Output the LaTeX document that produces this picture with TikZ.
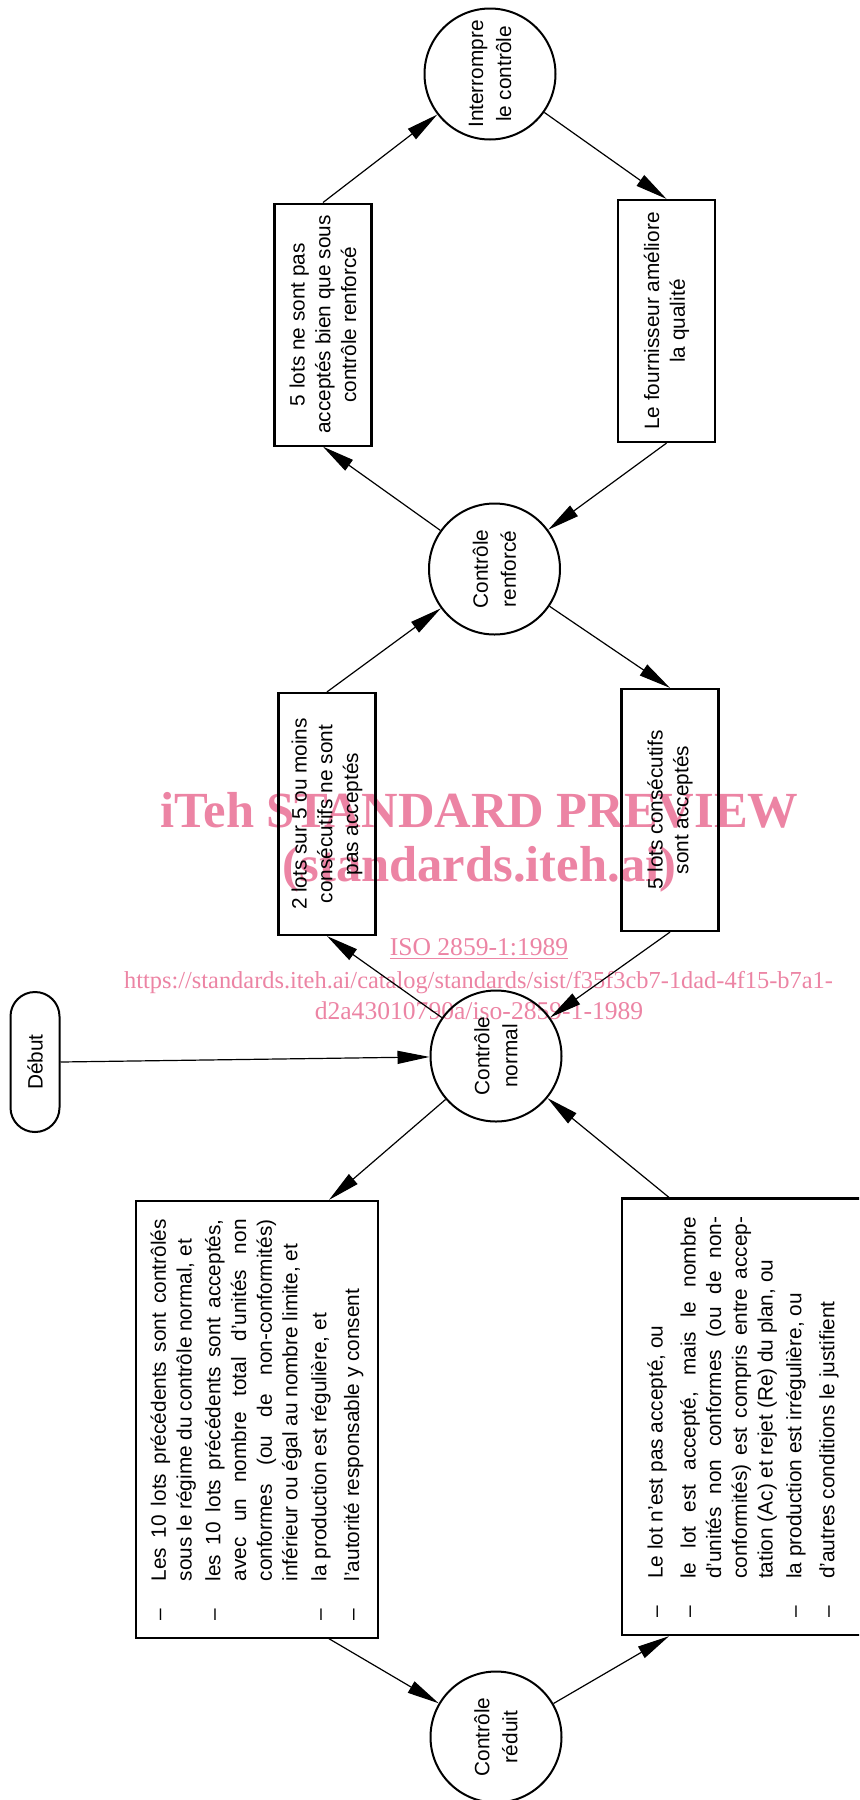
\documentclass[tikz,border=0pt]{standalone}
\usepackage{fontspec}
\setmainfont{Liberation Sans}
\newfontfamily\wmfont{Liberation Serif}
\usepackage{tikz}
\usetikzlibrary{arrows.meta, calc, shapes.geometric}
\definecolor{wmpink}{RGB}{236,132,164}
\newcommand{\diagfont}{\fontsize{10.4}{12.85}\selectfont}
\newcommand{\justifset}{\diagfont\leftskip=0pt\rightskip=0pt\parfillskip=0pt plus 1fil\spaceskip=0.278em plus 0.6em minus 0.08em\hyphenpenalty=10000\exhyphenpenalty=10000\relax}
\newcommand{\lotitem}[1]{\makebox[19.5pt][l]{–}\parbox[t]{181pt}{\justifset #1}}
\newcommand{\lotlist}[1]{\parbox{201pt}{\diagfont #1}}

\begin{document}
\begin{tikzpicture}[
    x=0.5pt, y=-0.5pt,
    etat/.style={draw, circle, line width=1pt, minimum size=65.5pt, inner sep=0pt, align=center, rotate=90, font=\fontsize{10.4}{14}\selectfont},
    regle/.style={draw, line width=1.1pt, minimum width=121pt, minimum height=48.5pt, align=center, rotate=90, font=\diagfont},
    liste/.style={draw, line width=1.1pt, minimum width=218.3pt, minimum height=121pt, inner xsep=8.6pt, rotate=90, font=\diagfont},
    terminal/.style={draw, line width=1pt, rounded corners=12.2pt, minimum width=70pt, minimum height=24.5pt, rotate=90, font=\diagfont},
    fleche/.style={-{Triangle[length=16pt, width=6.5pt]}, line width=0.6pt},
    filigrane/.style={text=wmpink, anchor=base},
]
    \useasboundingbox (0,0) rectangle (859,1800);
    \clip (0,0) rectangle (859,1800);

    % Watermark
    \node[filigrane, font=\wmfont\bfseries\fontsize{25.3}{30}\selectfont] (wm1) at (479.5, 827) {iTeh STANDARD PREVIEW};
    \node[filigrane, font=\wmfont\bfseries\fontsize{25.3}{30}\selectfont] (wm2) at (479.5, 881) {(standards.iteh.ai)};
    \node[filigrane, font=\wmfont\fontsize{12.8}{15}\selectfont] (wm3) at (479, 955) {\underline{ISO 2859-1:1989}};
    \node[filigrane, font=\wmfont\fontsize{12.2}{15}\selectfont] (wm4) at (478.5, 988) {https://standards.iteh.ai/catalog/standards/sist/f35f3cb7-1dad-4f15-b7a1-};
    \node[filigrane, font=\wmfont\fontsize{12.8}{15}\selectfont] (wm5) at (479, 1019) {d2a43010790a/iso-2859-1-1989};

    % States
    \node[etat] (interr) at (490, 74) {Interrompre\\le contrôle};
    \node[etat] (renforce) at (494.5, 569) {Contrôle\\renforcé};
    \node[etat] (normal) at (496, 1056) {Contrôle\\normal};
    \node[etat] (reduit) at (496, 1737) {Contrôle\\réduit};
    \node[terminal] (debut) at (35, 1062) {Début};

    % Switching rules
    \node[regle] (refus) at (323, 324.6) {5 lots ne sont pas\\acceptés bien que sous\\contrôle renforcé};
    \node[regle] (fourn) at (666.5, 321) {Le fournisseur améliore\\la qualité};
    \node[regle] (deuxsurcinq) at (327, 814) {2 lots sur 5 ou moins\\consécutifs ne sont\\pas acceptés};
    \node[regle] (cinqacc) at (670, 810) {5 lots consécutifs\\sont acceptés};

    % Conditions for reduced inspection
    \node[liste] (listeL) at (257, 1419.3) {\lotlist{%
        \lotitem{Les 10 lots précédents sont contrôlés\linebreak sous le régime du contrôle normal,~et}\par\vspace{3.6pt}
        \lotitem{les 10 lots précédents sont acceptés,\linebreak avec un nombre total d’unités non\linebreak conformes (ou de non-conformités)\linebreak inférieur ou égal au nombre limite,~et}\par\vspace{3.6pt}
        \lotitem{la production est régulière, et}\par\vspace{3.6pt}
        \lotitem{l’autorité responsable y consent}}};
    \node[liste] (listeR) at (743, 1416.8) {\lotlist{%
        \lotitem{Le lot n’est pas accepté, ou}\par\vspace{3.6pt}
        \lotitem{le lot est accepté, mais le nombre\linebreak d’unités non conformes (ou de non-\linebreak conformités) est compris entre accep-\linebreak tation (Ac) et rejet (Re) du plan,~ou}\par\vspace{3.6pt}
        \lotitem{la production est irrégulière, ou}\par\vspace{3.6pt}
        \lotitem{d’autres conditions le justifient}}};

    % Connectors
    \draw[fleche] (refus.east) -- (interr);
    \draw[fleche] (interr) -- (fourn.east);
    \draw[fleche] (fourn.west) -- (renforce);
    \draw[fleche] (renforce) -- (refus.west);
    \draw[fleche] (deuxsurcinq.east) -- (renforce);
    \draw[fleche] (renforce) -- (cinqacc.east);
    \draw[fleche] (cinqacc.west) -- (normal);
    \draw[fleche] (normal) -- (deuxsurcinq.west);
    \draw[fleche] (debut.south) -- (normal);
    \draw[fleche] (normal) -- ($(listeL.east)+(72,0)$);
    \draw[fleche] ($(listeR.east)+(-74,0)$) -- (normal);
    \draw[fleche] ($(listeL.west)+(72,0)$) -- (reduit);
    \draw[fleche] (reduit) -- ($(listeR.west)+(-74,0)$);
\end{tikzpicture}
\end{document}
